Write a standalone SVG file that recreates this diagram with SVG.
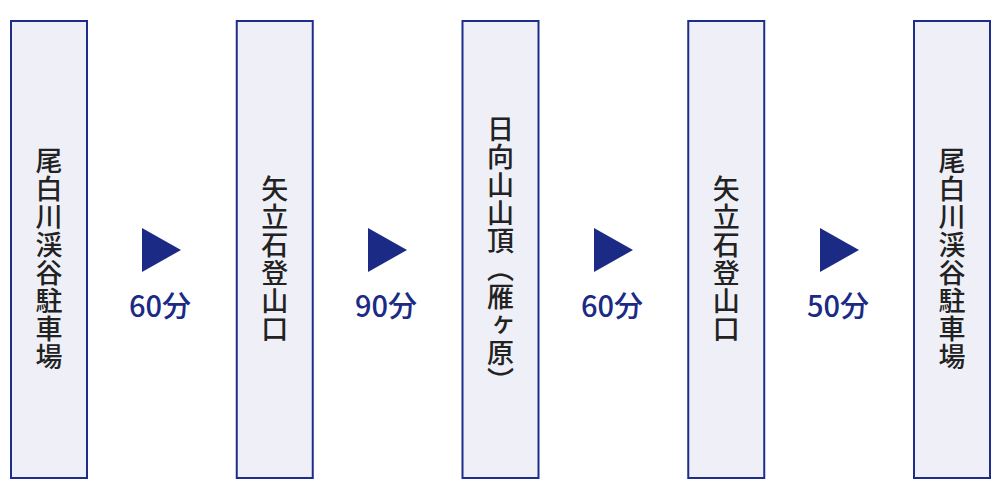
<svg xmlns="http://www.w3.org/2000/svg" width="1000" height="500" viewBox="0 0 1000 500">
<style>
.box{fill:#eff0f7;stroke:#1e2d8c;stroke-width:2}
.v{font-family:"Noto Sans CJK JP","Noto Sans",sans-serif;font-size:27px;font-weight:500;fill:#222;writing-mode:vertical-rl;text-anchor:middle;letter-spacing:1px}
.arr{fill:#1b2a84}
.lbl{font-family:"Noto Sans CJK JP","Noto Sans",sans-serif;font-size:29px;font-weight:500;fill:#1b2a84;text-anchor:middle}
</style>
<rect width="1000" height="500" fill="#fff"/>
<g id="node1"><rect class="box" x="11" y="21" width="76" height="457"/><text class="v" x="49" y="259">尾白川渓谷駐車場</text></g>
<g id="node2"><rect class="box" x="236.75" y="21" width="76" height="457"/><text class="v" x="274.75" y="259">矢立石登山口</text></g>
<g id="node3"><rect class="box" x="462.5" y="21" width="76" height="457"/><text class="v" x="500.5" y="255">日向山山頂（雁ヶ原）</text></g>
<g id="node4"><rect class="box" x="688.25" y="21" width="76" height="457"/><text class="v" x="726.25" y="259">矢立石登山口</text></g>
<g id="node5"><rect class="box" x="914" y="21" width="76" height="457"/><text class="v" x="952" y="259">尾白川渓谷駐車場</text></g>
<g id="connectors">
<polygon class="arr" points="142,228 181,250 142,272"/>
<text class="lbl" x="160" y="317">60分</text>
<polygon class="arr" points="368,228 407,250 368,272"/>
<text class="lbl" x="386" y="317">90分</text>
<polygon class="arr" points="594,228 633,250 594,272"/>
<text class="lbl" x="612" y="317">60分</text>
<polygon class="arr" points="820,228 859,250 820,272"/>
<text class="lbl" x="838" y="317">50分</text>
</g>
</svg>
